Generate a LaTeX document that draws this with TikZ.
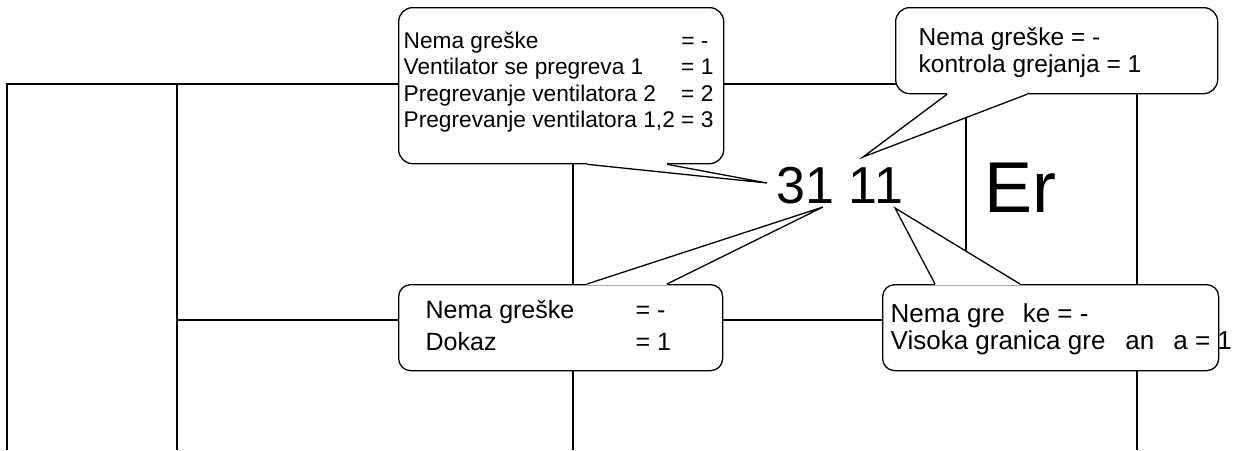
\documentclass[tikz,border=0pt]{standalone}
\usepackage{fontspec}
\setmainfont{Liberation Sans}
\usetikzlibrary{calc}

\tikzset{
  bubble/.style={draw,fill=white,rounded corners=14pt,inner sep=0pt,anchor=north west},
  bubbletext/.style={anchor=base west,inner sep=0pt,font=\fontsize{24}{27}\selectfont},
  bigcode/.style={anchor=base west,inner sep=0pt},
}
% tail of a bubble: corner, two offsets along the edge, tip
\newcommand{\bubbletail}[4]{%
  \fill[white] ($(#1)+(#2,0)$) -- (#4) -- ($(#1)+(#3,0)$) -- cycle;
  \draw[white,line width=2.8pt] ($(#1)+(#2,0)$) -- ($(#1)+(#3,0)$);
  \draw ($(#1)+(#2,0)$) -- (#4) -- ($(#1)+(#3,0)$);}

\begin{document}
\begin{tikzpicture}[x=1pt,y=-1pt,line width=1.3pt]
  \useasboundingbox (0,0) rectangle (1233,450);
  % Set the frame lines
  \draw (7,450) -- (7,84) -- (1137,84) -- (1137,450);
  \draw (177,84) -- (177,450);
  \draw (573,84) -- (573,450);
  \draw (966,84) -- (966,320);
  \draw (177,320) -- (1137,320);
  % Add the display
  \node[bigcode,font=\fontsize{52}{60}\selectfont] (code) at (776,203) {31 11};
  \node[bigcode,font=\fontsize{72}{80}\selectfont] (err) at (984,212) {Er};
  \coordinate (tipfan) at (767,183);
  \coordinate (tipheat) at (863,157);
  \coordinate (tipproof) at (823,207);
  \coordinate (tiplimit) at (895,208);
  % Add the bubbles
  \node[bubble,minimum width=325pt,minimum height=156pt] (fanbox) at (398,7) {};
  \node[bubble,minimum width=322pt,minimum height=86pt] (heatbox) at (895,7) {};
  \node[bubble,minimum width=324pt,minimum height=86pt,rounded corners=12pt] (proofbox) at (398,284) {};
  \node[bubble,minimum width=336pt,minimum height=86pt,rounded corners=12pt] (limitbox) at (882,284) {};
  \bubbletail{fanbox.south west}{189}{269}{tipfan}
  \bubbletail{heatbox.south west}{52}{132}{tipheat}
  \bubbletail{proofbox.north west}{189}{269}{tipproof}
  \bubbletail{limitbox.north west}{53}{138}{tiplimit}
  % Add the bubble texts
  \node[bubbletext,font=\fontsize{22.7}{26.5}\selectfont] (fantext) at (403,48)
    {\begin{tabular}[t]{@{}l@{ }l@{}}
      Nema greške & = -\\
      Ventilator se pregreva 1 & = 1\\
      Pregrevanje ventilatora 2 & = 2\\
      Pregrevanje ventilatora 1,2 & = 3
    \end{tabular}};
  \node[bubbletext,font=\fontsize{24.5}{27}\selectfont] (heattext) at (918,45)
    {\begin{tabular}[t]{@{}l@{}}
      Nema greške = -\\
      kontrola grejanja = 1
    \end{tabular}};
  \node[bubbletext,font=\fontsize{25}{32}\selectfont] (prooftext) at (425,318)
    {\begin{tabular}[t]{@{}p{210pt}@{}l@{}}
      Nema greške & = -\\
      Dokaz & = 1
    \end{tabular}};
  \node[bubbletext,font=\fontsize{26}{27}\selectfont] (limittext) at (890,322)
    {\begin{tabular}[t]{@{}l@{}}
      Nema gre\hspace{18pt}ke = -\\
      Visoka granica gre\hspace{20pt}an\hspace{19pt}a = 1
    \end{tabular}};
\end{tikzpicture}
\end{document}
